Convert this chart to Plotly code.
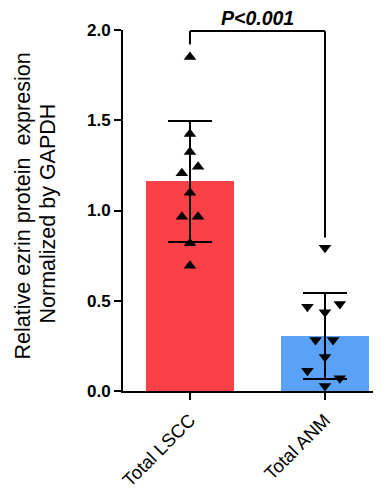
import plotly.graph_objects as go

categories = ["Total LSCC", "Total ANM"]
bar_means = [1.163, 0.305]
bar_sds = [0.335, 0.24]
lscc_values = [1.85, 1.424, 1.324, 1.243, 1.206, 1.099, 0.966, 0.966, 0.818, 0.694]
lscc_offsets = [0, 0, 0, 0.06, -0.06, 0, -0.06, 0.06, 0, 0]
anm_values = [0.794, 0.467, 0.482, 0.436, 0.283, 0.283, 0.188, 0.112, 0.07, 0.028]
anm_offsets = [0, -0.13, 0.11, 0, -0.07, 0.06, 0, -0.13, 0.11, 0]
y_ticks = [0.0, 0.5, 1.0, 1.5, 2.0]
bracket_y = 1.994
bracket_left_bottom = 1.92
bracket_right_bottom = 0.85
p_label = "P<0.001"
y_title_lines = ["Relative ezrin protein  expresion", "Normalized by GAPDH"]

FONT = "Liberation Sans, Arial, sans-serif"
xs = [0, 1]

fig = go.Figure()
fig.add_trace(go.Bar(
    x=xs, y=bar_means, width=0.65,
    marker=dict(color=["#FA4148", "#5AA2F5"], line=dict(width=0)),
    error_y=dict(type="data", array=bar_sds, visible=True, color="black",
                 thickness=2, width=22),
    showlegend=False,
))
fig.add_trace(go.Scatter(
    x=[xs[0] + o for o in lscc_offsets], y=lscc_values, mode="markers",
    marker=dict(symbol="triangle-up", size=11, color="black"),
    showlegend=False, cliponaxis=False,
))
fig.add_trace(go.Scatter(
    x=[xs[1] + o for o in anm_offsets], y=anm_values, mode="markers",
    marker=dict(symbol="triangle-down", size=11, color="black"),
    showlegend=False, cliponaxis=False,
))

line = dict(color="black", width=2)
fig.add_shape(type="line", x0=xs[0], x1=xs[1], y0=bracket_y, y1=bracket_y, line=line)
fig.add_shape(type="line", x0=xs[0], x1=xs[0], y0=bracket_y, y1=bracket_left_bottom, line=line)
fig.add_shape(type="line", x0=xs[1], x1=xs[1], y0=bracket_y, y1=bracket_right_bottom, line=line)

fig.add_annotation(x=(xs[0] + xs[1]) / 2, y=bracket_y, yshift=13, text="<b><i>" + p_label + "</i></b>",
                   showarrow=False, font=dict(family=FONT, size=19.5, color="black"))

for text, xs_, ys_ in zip(y_title_lines, [-115, -90], [4, -3]):
    fig.add_annotation(xref="paper", yref="paper", x=0, y=0.5, xshift=xs_, yshift=ys_,
                       text=text, textangle=-90, showarrow=False,
                       font=dict(family=FONT, size=21.5, color="black"))

fig.update_layout(
    width=373, height=484,
    margin=dict(l=115, r=0, t=22, b=101),
    plot_bgcolor="white", paper_bgcolor="white",
    font=dict(family=FONT, color="black"),
    bargap=0,
)
fig.update_xaxes(
    range=[-0.496, 1.415], tickvals=xs, ticktext=categories, tickangle=-45,
    showline=True, linecolor="black", linewidth=2, ticks="outside", ticklen=7,
    tickwidth=2, tickcolor="black", showgrid=False, zeroline=False, automargin=False,
    ticklabelstandoff=2,
    tickfont=dict(family=FONT, size=18.5, color="black"),
)
fig.update_yaxes(
    range=[0, 2.0], tickvals=y_ticks, ticktext=["<b>%.1f</b>" % v for v in y_ticks],
    showline=True, linecolor="black", linewidth=2, ticks="outside", ticklen=7,
    tickwidth=2, tickcolor="black", showgrid=False, zeroline=False, automargin=False,
    tickfont=dict(family=FONT, size=17, color="black"),
)

fig.write_html("out.html")
